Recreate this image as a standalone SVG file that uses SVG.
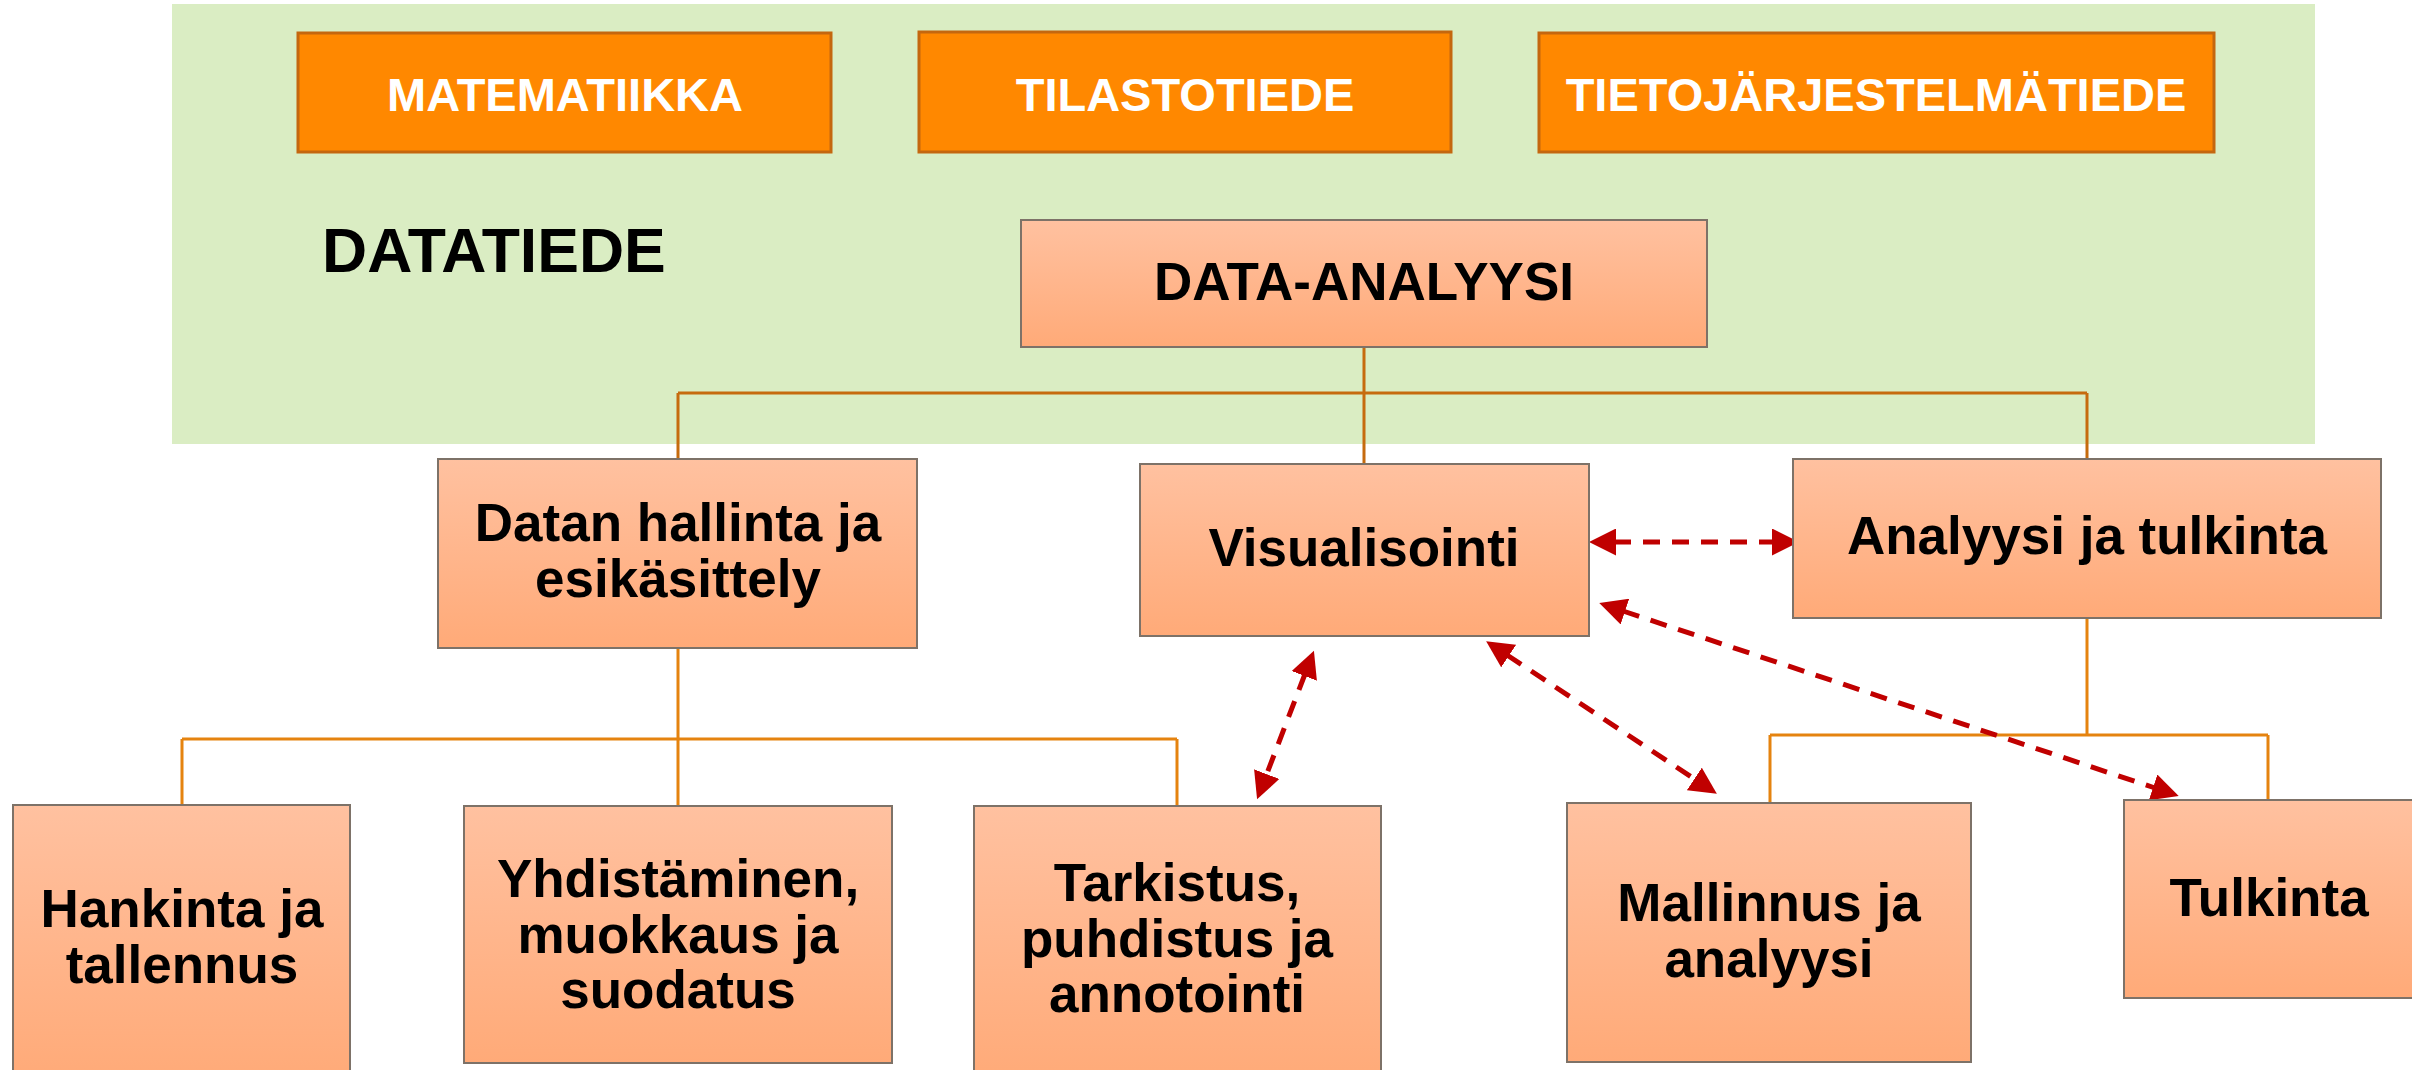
<svg xmlns="http://www.w3.org/2000/svg" width="2412" height="1070" viewBox="0 0 2412 1070">
<style>
.top{fill:#FF8800;stroke:#C4670F;stroke-width:3}
.node{fill:url(#salmon);stroke:#7D7268;stroke-width:2}
.tw{font-family:"Liberation Sans",Arial,sans-serif;font-weight:bold;font-size:47px;fill:#FFFFFF;text-anchor:middle}
.tb{font-family:"Liberation Sans",Arial,sans-serif;font-weight:bold;font-size:53px;fill:#000000;text-anchor:middle}
.tree{fill:none;stroke-width:3}
.dk{stroke:#C66B0E}
.lt{stroke:#E5830F}
.dash{fill:none;stroke:#C00000;stroke-width:5;stroke-dasharray:17 12;marker-start:url(#ah);marker-end:url(#ah)}
</style>
<defs>
<linearGradient id="salmon" x1="0" y1="0" x2="0" y2="1">
<stop offset="0" stop-color="#FFC1A0"/>
<stop offset="1" stop-color="#FFAA78"/>
</linearGradient>
<marker id="ah" viewBox="0 0 27 27" markerWidth="27" markerHeight="27" refX="2" refY="13.5" orient="auto-start-reverse" markerUnits="userSpaceOnUse">
<path d="M0,0 L27,13.5 L0,27 z" fill="#C00000"/>
</marker>
</defs>
<rect x="0" y="0" width="2412" height="1070" fill="#FFFFFF"/>
<g id="datatiede">
<rect x="172" y="4" width="2143" height="440" fill="#DAEDC3"/>
<text x="322" y="272" font-family="Liberation Sans, Arial, sans-serif" font-weight="bold" font-size="62.5" fill="#000000">DATATIEDE</text>
</g>
<g id="connectors">
<path class="tree dk" d="M1364,347 V463 M678,393 H2087 M678,393 V459 M2087,393 V459"/>
<path class="tree lt" d="M678,648 V739 M182,739 H1177 M182,739 V805 M678,739 V806 M1177,739 V806"/>
<path class="tree lt" d="M2087,618 V735 M1770,735 H2268 M1770,735 V803 M2268,735 V800"/>
<path class="dash" d="M1614,542 H1774"/>
<path class="dash" d="M1305,674 L1266,776"/>
<path class="dash" d="M1507,655 L1696,780"/>
<path class="dash" d="M1623,611 L2155,788"/>
</g>
<g id="matematiikka">
<rect class="top" x="298" y="33" width="533" height="119"/>
<text class="tw" x="565" y="111">MATEMATIIKKA</text>
</g>
<g id="tilastotiede">
<rect class="top" x="919" y="32" width="532" height="120"/>
<text class="tw" x="1185" y="111">TILASTOTIEDE</text>
</g>
<g id="tietojarjestelmatiede">
<rect class="top" x="1539" y="33" width="675" height="119"/>
<text class="tw" x="1876" y="111">TIETOJÄRJESTELMÄTIEDE</text>
</g>
<g id="data-analyysi">
<rect class="node" x="1021" y="220" width="686" height="127"/>
<text class="tb" x="1364" y="300" font-size="52">DATA-ANALYYSI</text>
</g>
<g id="datan-hallinta">
<rect class="node" x="438" y="459" width="479" height="189"/>
<text class="tb" x="678" y="541">Datan hallinta ja</text>
<text class="tb" x="678" y="597">esikäsittely</text>
</g>
<g id="visualisointi">
<rect class="node" x="1140" y="464" width="449" height="172"/>
<text class="tb" x="1364" y="566">Visualisointi</text>
</g>
<g id="analyysi-tulkinta">
<rect class="node" x="1793" y="459" width="588" height="159"/>
<text class="tb" x="2087" y="554">Analyysi ja tulkinta</text>
</g>
<g id="hankinta">
<rect class="node" x="13" y="805" width="337" height="275"/>
<text class="tb" x="182" y="927">Hankinta ja</text>
<text class="tb" x="182" y="983">tallennus</text>
</g>
<g id="yhdistaminen">
<rect class="node" x="464" y="806" width="428" height="257"/>
<text class="tb" x="678" y="897">Yhdistäminen,</text>
<text class="tb" x="678" y="953">muokkaus ja</text>
<text class="tb" x="678" y="1008">suodatus</text>
</g>
<g id="tarkistus">
<rect class="node" x="974" y="806" width="407" height="275"/>
<text class="tb" x="1177" y="901">Tarkistus,</text>
<text class="tb" x="1177" y="957">puhdistus ja</text>
<text class="tb" x="1177" y="1012">annotointi</text>
</g>
<g id="mallinnus">
<rect class="node" x="1567" y="803" width="404" height="259"/>
<text class="tb" x="1769" y="921">Mallinnus ja</text>
<text class="tb" x="1769" y="977">analyysi</text>
</g>
<g id="tulkinta">
<rect class="node" x="2124" y="800" width="292" height="198"/>
<text class="tb" x="2269" y="916">Tulkinta</text>
</g>
</svg>
